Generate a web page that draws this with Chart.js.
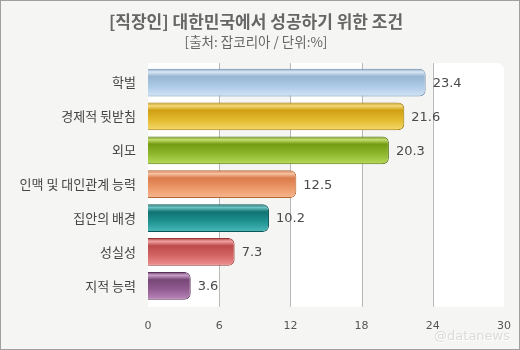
<!DOCTYPE html>
<html>
<head>
<meta charset="utf-8">
<script src="https://cdn.jsdelivr.net/npm/chart.js@4"></script>
<style>
  body { margin: 0; background: #fff; }
  #wrap { width: 520px; height: 350px; }
</style>
</head>
<body>
<div id="wrap"><canvas id="myChart" width="520" height="350"></canvas></div>
<script>
const categories = ['학벌', '경제적 뒷받침', '외모', '인맥 및 대인관계 능력', '집안의 배경', '성실성', '지적 능력'];
const values = [23.4, 21.6, 20.3, 12.5, 10.2, 7.3, 3.6];
const xTicks = [0, 6, 12, 18, 24, 30];

// gradient stops per bar: dark top, highlight, mid, body, light bottom
const barShades = [
    ['#7f9dbd', '#dbe8f6', '#98b5d3', '#aac7e4', '#d0e4f7'],
    ['#c0920e', '#f4d97a', '#d0a014', '#e2b82c', '#f6da6c'],
    ['#5f840e', '#c6df70', '#749a12', '#8cb52a', '#b8da5a'],
    ['#c86a3e', '#f7c4a2', '#db7b4c', '#ea9564', '#f8b890'],
    ['#0b6060', '#6cc4c4', '#117272', '#1d9090', '#4cbaba'],
    ['#a83e3e', '#f0a0a0', '#bd4a4a', '#d26262', '#ee9292'],
    ['#643864', '#c8a0c8', '#774877', '#8f598f', '#ba88ba']
];
const barBorders = ['#6f8fae', '#a07a08', '#557410', '#b46634', '#0b5656', '#963636', '#583058'];

const FONT = "'Noto Sans CJK KR', 'Noto Sans', sans-serif";

function barGradient(c) {
    const chart = c.chart;
    const y = chart.scales.y;
    const shade = barShades[c.dataIndex];
    if (!y || y.top === undefined) return shade[3];
    const cy = y.getPixelForValue(c.dataIndex);
    const half = 14;
    const g = chart.ctx.createLinearGradient(0, cy - half, 0, cy + half);
    g.addColorStop(0, shade[0]);
    g.addColorStop(0.12, shade[1]);
    g.addColorStop(0.28, shade[2]);
    g.addColorStop(0.6, shade[3]);
    g.addColorStop(1, shade[4]);
    return g;
}

// page background, alternating white bands and vertical grid lines
const backdrop = {
    id: 'backdrop',
    beforeDatasetsDraw(chart) {
        const { ctx, chartArea: a, scales: { x } } = chart;
        const top = a.top - 2.5;
        const bottom = a.bottom + 4;
        ctx.save();
        ctx.fillStyle = '#ffffff';
        for (let i = 0; i < xTicks.length - 1; i += 2) {
            const l = x.getPixelForValue(xTicks[i]);
            const r = x.getPixelForValue(xTicks[i + 1]);
            ctx.beginPath();
            if (i + 1 === xTicks.length - 1) {
                ctx.roundRect(l, top, r - l, bottom - top, [0, 7, 0, 0]);
            } else {
                ctx.rect(l, top, r - l, bottom - top);
            }
            ctx.fill();
        }
        ctx.strokeStyle = '#b8b8b8';
        ctx.lineWidth = 1;
        xTicks.slice(1, -1).forEach(v => {
            const px = Math.round(x.getPixelForValue(v)) + 0.5;
            ctx.beginPath();
            ctx.moveTo(px, top);
            ctx.lineTo(px, bottom);
            ctx.stroke();
        });
        ctx.restore();
    },
    beforeDraw(chart) {
        const ctx = chart.ctx;
        ctx.save();
        ctx.fillStyle = '#f5f5f3';
        ctx.fillRect(0, 0, chart.width, chart.height);
        ctx.restore();
    },
    afterDraw(chart) {
        const ctx = chart.ctx;
        ctx.save();
        ctx.strokeStyle = '#a0a0a0';
        ctx.lineWidth = 1;
        ctx.strokeRect(0.5, 0.5, chart.width - 1, chart.height - 1);
        // watermark
        ctx.font = "13px 'DejaVu Sans', sans-serif";
        ctx.textAlign = 'right';
        ctx.textBaseline = 'middle';
        ctx.fillStyle = 'rgba(255,255,255,0.9)';
        ctx.fillText('@datanews', 511, 338);
        ctx.fillStyle = 'rgba(200,200,200,0.6)';
        ctx.fillText('@datanews', 510, 337);
        ctx.restore();
    }
};

// numbers at the end of each bar
const valueLabels = {
    id: 'valueLabels',
    afterDatasetsDraw(chart) {
        const ctx = chart.ctx;
        const meta = chart.getDatasetMeta(0);
        ctx.save();
        ctx.font = "13px 'DejaVu Sans', sans-serif";
        ctx.fillStyle = '#4a4a4a';
        ctx.textAlign = 'left';
        ctx.textBaseline = 'middle';
        meta.data.forEach((bar, i) => {
            ctx.fillText(values[i].toFixed(1), bar.x + 7, bar.y + 1);
        });
        ctx.restore();
    }
};

const ctx = document.getElementById('myChart').getContext('2d');

const chart = new Chart(ctx, {
    type: 'bar',
    data: {
        labels: categories,
        datasets: [{
            data: values,
            backgroundColor: barGradient,
            borderColor: barBorders,
            borderWidth: 1,
            borderSkipped: 'start',
            borderRadius: 6,
            barPercentage: 0.82,
            categoryPercentage: 1.0
        }]
    },
    options: {
        indexAxis: 'y',
        responsive: false,
        animation: false,
        events: [],
        layout: {
            padding: { left: 0, right: 8, top: 0, bottom: 8 }
        },
        plugins: {
            legend: { display: false },
            tooltip: { enabled: false },
            title: {
                display: true,
                text: '[직장인] 대한민국에서 성공하기 위한 조건',
                color: '#666',
                font: { family: FONT, size: 17, weight: 'bold' },
                padding: { top: 11, bottom: 0 }
            },
            subtitle: {
                display: true,
                text: '[출처: 잡코리아 / 단위:%]',
                color: '#666',
                font: { family: FONT, size: 13.5 },
                padding: { top: 2, bottom: 16 }
            }
        },
        scales: {
            x: {
                min: 0,
                max: 30,
                afterBuildTicks: scale => {
                    scale.ticks = xTicks.map(v => ({ value: v }));
                },
                grid: { display: false },
                border: { display: false },
                ticks: {
                    color: '#555',
                    padding: 9,
                    font: { family: "'DejaVu Sans', sans-serif", size: 11 }
                }
            },
            y: {
                grid: { display: false },
                border: { display: false },
                afterFit: scale => { scale.width = 148; },
                ticks: {
                    color: '#444',
                    padding: 4,
                    font: { family: FONT, size: 13 }
                }
            }
        }
    },
    plugins: [backdrop, valueLabels]
});
</script>
</body>
</html>
